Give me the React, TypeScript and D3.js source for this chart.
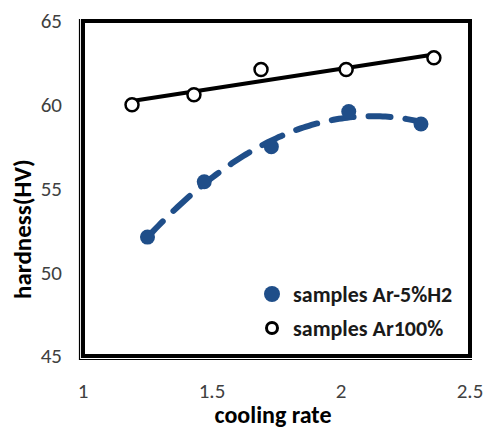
import React, { useEffect, useRef } from 'react';
import * as d3 from 'd3';

// cooling rate vs hardness
const h2Rate = [1.25, 1.47, 1.73, 2.03, 2.31];
const h2Hardness = [52.1, 55.4, 57.5, 59.6, 58.85];
const arRate = [1.19, 1.43, 1.69, 2.02, 2.36];
const arHardness = [60.0, 60.6, 62.1, 62.1, 62.8];
const xTicks = [1, 1.5, 2, 2.5];
const yTicks = [45, 50, 55, 60, 65];
const seriesNames = ['samples Ar-5%H2', 'samples Ar100%'];

// least squares fits for the trendlines
const linearFit = (xs: number[], ys: number[]) => {
  const mx = d3.mean(xs)!, my = d3.mean(ys)!;
  const sxy = d3.sum(xs, (x, i) => (x - mx) * (ys[i] - my));
  const sxx = d3.sum(xs, x => (x - mx) ** 2);
  const b = sxy / sxx;
  return (x: number) => my + b * (x - mx);
};

const quadFit = (xs: number[], ys: number[]) => {
  const n = xs.length;
  const s = (p: number) => d3.sum(xs, x => x ** p);
  const t = (p: number) => d3.sum(xs, (x, i) => x ** p * ys[i]);
  const A = [
    [n, s(1), s(2), t(0)],
    [s(1), s(2), s(3), t(1)],
    [s(2), s(3), s(4), t(2)],
  ];
  for (let i = 0; i < 3; i++) {
    for (let k = i + 1; k < 3; k++) {
      const f = A[k][i] / A[i][i];
      for (let j = i; j < 4; j++) A[k][j] -= f * A[i][j];
    }
  }
  const c = [0, 0, 0];
  for (let i = 2; i >= 0; i--) {
    let v = A[i][3];
    for (let j = i + 1; j < 3; j++) v -= A[i][j] * c[j];
    c[i] = v / A[i][i];
  }
  return (x: number) => c[0] + c[1] * x + c[2] * x * x;
};

const BLUE = '#1f4e89';

const App = () => {
  const svgRef = useRef<SVGSVGElement>(null);

  useEffect(() => {
    const width = 484, height = 430;
    const margin = { top: 21, right: 14, bottom: 74, left: 83 };

    const svg = d3.select(svgRef.current);
    svg.selectAll('*').remove();
    svg.attr('width', width).attr('height', height).style('background', 'white');

    const x = d3.scaleLinear().domain([1, 2.5]).range([margin.left, width - margin.right]);
    const y = d3.scaleLinear().domain([45, 65]).range([height - margin.bottom, margin.top]);

    const font = "Calibri, Carlito, 'Open Sans', sans-serif";

    // tick labels
    svg.append('g')
      .selectAll('text')
      .data(yTicks)
      .enter()
      .append('text')
      .attr('x', 62)
      .attr('y', d => y(d))
      .attr('dy', '0.35em')
      .attr('text-anchor', 'end')
      .attr('font-family', font)
      .attr('font-size', 21)
      .attr('fill', '#404040')
      .text(d => d);

    svg.append('g')
      .selectAll('text')
      .data(xTicks)
      .enter()
      .append('text')
      .attr('x', d => x(d))
      .attr('y', 398)
      .attr('text-anchor', 'middle')
      .attr('font-family', font)
      .attr('font-size', 21)
      .attr('fill', '#404040')
      .text(d => d);

    // axis titles
    svg.append('text')
      .attr('x', 273)
      .attr('y', 423)
      .attr('text-anchor', 'middle')
      .attr('font-family', font)
      .attr('font-weight', 'bold')
      .attr('font-size', 24)
      .text('cooling rate');

    svg.append('text')
      .attr('transform', 'translate(31,229) rotate(-90)')
      .attr('text-anchor', 'middle')
      .attr('font-family', font)
      .attr('font-weight', 'bold')
      .attr('font-size', 25)
      .text('hardness(HV)');

    // trendlines
    const lin = linearFit(arRate, arHardness);
    const xr = d3.extent(arRate) as [number, number];
    svg.append('line')
      .attr('x1', x(xr[0])).attr('y1', y(lin(xr[0])))
      .attr('x2', x(xr[1])).attr('y2', y(lin(xr[1])))
      .attr('stroke', 'black')
      .attr('stroke-width', 4);

    const quad = quadFit(h2Rate, h2Hardness);
    const hr = d3.extent(h2Rate) as [number, number];
    const curve = d3.range(0, 101).map(i => hr[0] + (hr[1] - hr[0]) * i / 100);
    svg.append('path')
      .attr('d', d3.line<number>().x(d => x(d)).y(d => y(quad(d)))(curve))
      .attr('fill', 'none')
      .attr('stroke', BLUE)
      .attr('stroke-width', 6)
      .attr('stroke-linecap', 'round')
      .attr('stroke-dasharray', '22 15');

    // markers
    svg.append('g')
      .selectAll('circle')
      .data(h2Rate)
      .enter()
      .append('circle')
      .attr('cx', d => x(d))
      .attr('cy', (d, i) => y(h2Hardness[i]))
      .attr('r', 7.5)
      .attr('fill', BLUE);

    svg.append('g')
      .selectAll('circle')
      .data(arRate)
      .enter()
      .append('circle')
      .attr('cx', d => x(d))
      .attr('cy', (d, i) => y(arHardness[i]))
      .attr('r', 6.5)
      .attr('fill', 'white')
      .attr('stroke', 'black')
      .attr('stroke-width', 2.5);

    // plot frame, with thin axis lines just outside it
    const x0 = margin.left, x1 = width - margin.right;
    const y0 = margin.top, y1 = height - margin.bottom;
    svg.append('rect')
      .attr('x', x0)
      .attr('y', y0)
      .attr('width', x1 - x0)
      .attr('height', y1 - y0)
      .attr('fill', 'none')
      .attr('stroke', 'black')
      .attr('stroke-width', 4);
    svg.append('path')
      .attr('d', `M${x0 - 3.5},${y0 - 2}V${y1 + 3.5}H${x1 + 2}`)
      .attr('fill', 'none')
      .attr('stroke', 'black')
      .attr('stroke-width', 1.2);

    // legend
    const legend = svg.append('g').attr('transform', 'translate(272,294)');
    legend.append('circle').attr('cx', 0).attr('cy', 0).attr('r', 8).attr('fill', BLUE);
    legend.append('circle').attr('cx', 0).attr('cy', 34).attr('r', 5.5)
      .attr('fill', 'white').attr('stroke', 'black').attr('stroke-width', 3);
    legend.selectAll('text')
      .data(seriesNames)
      .enter()
      .append('text')
      .attr('x', 21)
      .attr('y', (d, i) => i * 34)
      .attr('dy', '0.35em')
      .attr('font-family', font)
      .attr('font-weight', 'bold')
      .attr('font-size', 22)
      .attr('fill', '#1a1a1a')
      .text(d => d);
  }, []);

  return <svg ref={svgRef} style={{ position: 'absolute', left: 0, top: 0 }} />;
};

export default App;
